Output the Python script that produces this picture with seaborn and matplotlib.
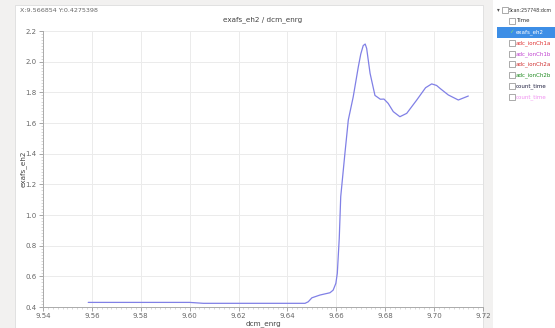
import matplotlib
matplotlib.use("Agg")
import matplotlib.pyplot as plt
import seaborn as sns
import pandas as pd
from matplotlib.patches import Rectangle
from matplotlib.ticker import MultipleLocator, FormatStrFormatter

# ---- data ----
energy = [9.5585, 9.580, 9.600, 9.6056, 9.625, 9.6472, 9.6485, 9.650, 9.6533,
          9.6574, 9.6587, 9.6598, 9.6604, 9.6612, 9.6618, 9.6635, 9.6649, 9.6669,
          9.669, 9.6700, 9.671, 9.6718, 9.6724, 9.6738, 9.6758, 9.678, 9.6795,
          9.6812, 9.6833, 9.686, 9.6888, 9.6929, 9.6965, 9.699, 9.701, 9.7024,
          9.7058, 9.7099, 9.714]
mu = [0.430, 0.430, 0.430, 0.424, 0.424, 0.424, 0.434, 0.460, 0.478,
      0.493, 0.510, 0.554, 0.620, 0.850, 1.120, 1.400, 1.620, 1.770,
      1.967, 2.050, 2.105, 2.115, 2.087, 1.924, 1.780, 1.755, 1.756,
      1.728, 1.674, 1.641, 1.663, 1.750, 1.830, 1.855, 1.845, 1.826,
      1.783, 1.750, 1.776]

legend_items = ["Scan:257748:dcm", "Time", "exafs_eh2", "adc_ionCh1a", "adc_ionCh1b",
                "adc_ionCh2a", "adc_ionCh2b", "count_time", "count_time"]
legend_colors = ["#333333", "#333333", "#ffffff", "#e03030", "#c040d0",
                 "#d03030", "#208a20", "#202040", "#f090f0"]

cursor_text = "X:9.566854 Y:0.4275398"
title_text = "exafs_eh2 / dcm_enrg"
x_label = "dcm_enrg"
y_label = "exafs_eh2"

df = pd.DataFrame({"dcm_enrg": energy, "exafs_eh2": mu})

sns.set_theme(style="white")
plt.rcParams['font.family'] = ['DejaVu Sans']

W, H = 555, 328
fig = plt.figure(figsize=(W / 100, H / 100), dpi=100, facecolor="#f2f1f0")

def fx(px):
    return px / W

def fy(py):
    return 1 - py / H

# background panels
fig.patches.append(Rectangle((fx(15), 0), fx(483) - fx(15), fy(5), transform=fig.transFigure,
                             facecolor="white", edgecolor="#dddddd", lw=0.6, zorder=-5))
fig.patches.append(Rectangle((fx(493), 0), 1 - fx(493), 1, transform=fig.transFigure,
                             facecolor="white", edgecolor="none", zorder=-5))

ax = fig.add_axes([fx(43), fy(307), fx(483) - fx(43), fy(31) - fy(307)])
ax.set_facecolor("white")
sns.lineplot(data=df, x="dcm_enrg", y="exafs_eh2", ax=ax, color="#8080e6",
             linewidth=0.9, sort=False, estimator=None)

ax.set_xlim(9.54, 9.72)
ax.set_ylim(0.4, 2.2)
ax.xaxis.set_major_locator(MultipleLocator(0.02))
ax.xaxis.set_minor_locator(MultipleLocator(0.002))
ax.yaxis.set_major_locator(MultipleLocator(0.2))
ax.yaxis.set_minor_locator(MultipleLocator(0.02))
ax.xaxis.set_major_formatter(FormatStrFormatter("%.2f"))
ax.yaxis.set_major_formatter(FormatStrFormatter("%.1f"))
ax.grid(True, which="major", color="#ebebeb", lw=0.7)
ax.tick_params(axis="both", which="major", labelsize=5, colors="#999999",
               labelcolor="#666666", length=3, width=0.6, pad=1.5, direction="out")
ax.tick_params(axis="both", which="minor", length=1.5, width=0.4, colors="#bbbbbb",
               direction="out")
ax.tick_params(axis="x", which="both", bottom=True)
ax.tick_params(axis="y", which="both", left=True)
for s in ["top", "right"]:
    ax.spines[s].set_visible(False)
for s in ["left", "bottom"]:
    ax.spines[s].set_color("#aaaaaa")
    ax.spines[s].set_linewidth(0.7)
ax.set_xlabel(x_label, fontsize=5.2, color="#444444", labelpad=0.5)
ax.set_ylabel(y_label, fontsize=5.2, color="#444444", labelpad=2)
ax.yaxis.set_label_coords((27 - 43) / (483 - 43), 0.5)
ax.set_title(title_text, fontsize=5.2, color="#444444", pad=7)

fig.text(fx(20), fy(10), cursor_text, fontsize=4.6, color="#666666", va="center", ha="left")

# legend tree panel
rows_y = [10, 21, 32, 43, 54, 64, 75, 86, 97]
fig.patches.append(Rectangle((fx(497), fy(37.5)), 1 - fx(497), fy(27) - fy(37.5),
                             transform=fig.transFigure, facecolor="#3d8ee6",
                             edgecolor="none", zorder=1))
for i, (label, col, yy) in enumerate(zip(legend_items, legend_colors, rows_y)):
    if i == 0:
        fig.text(fx(497), fy(yy), "\u25be", fontsize=4.0, color="#555555", va="center")
        bx = 502
        tx = 509
        fs = 3.4
    else:
        bx = 509
        tx = 516
        fs = 4.0
    if i != 2:
        fig.patches.append(Rectangle((fx(bx), fy(yy + 3)), fx(6), fy(yy - 3) - fy(yy + 3),
                                     transform=fig.transFigure, facecolor="white",
                                     edgecolor="#888888", lw=0.5, zorder=2))
    else:
        fig.text(fx(bx + 0.5), fy(yy), "\u2713", fontsize=4.0, color="#7ce07c", va="center")
    fig.text(fx(tx), fy(yy), label, fontsize=fs, color=col, va="center", ha="left", zorder=3)

fig.savefig("out.png", dpi=100, facecolor=fig.get_facecolor())
